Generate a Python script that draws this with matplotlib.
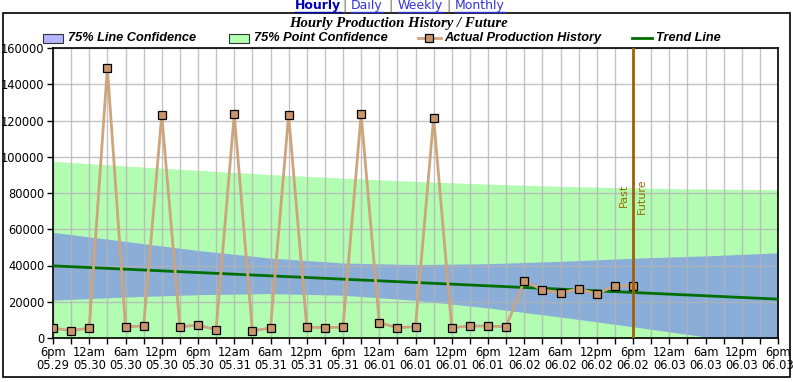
import matplotlib
matplotlib.use('Agg')
import matplotlib.pyplot as plt
import matplotlib.dates as mdates
import matplotlib.ticker as mticker
import numpy as np
import pandas as pd
from matplotlib.patches import Rectangle
from matplotlib.lines import Line2D

# ---------------- data ----------------
start = pd.Timestamp('2011-05-29 18:00')
production = [5500, 4000, 5500, 149000, 6200, 6600, 123000, 6200, 7100, 4600,
              123500, 4000, 5500, 123000, 6000, 5700, 6000, 123500, 8400, 5700,
              6200, 121500, 5700, 6600, 6600, 6200, 31500, 26600, 24900, 27100,
              24400, 28800, 28800]
prod_times = pd.date_range(start, periods=len(production), freq='3h')

band_times = pd.date_range(start, periods=11, freq='12h')
line_conf_upper = [58300, 53300, 48300, 44100, 41400, 40500, 41000, 42300, 44000, 45300, 47000]
line_conf_lower = [20900, 22600, 23900, 24500, 23600, 20800, 16600, 11600, 6200, 600, -5100]
point_conf_upper = [97500, 94900, 92500, 90200, 88200, 86400, 84900, 83700, 82800, 82200, 81800]
point_conf_lower = [-17900, -18970, -20240, -21600, -23280, -25140, -27320, -29780, -32560, -35620, -38900]

trend_times = [start, start + pd.Timedelta(hours=120)]
trend_values = [39800, 21450]

now_time = prod_times[-1]
x_end = start + pd.Timedelta(hours=120)

legend_labels = ['75% Line Confidence', '75% Point Confidence', 'Actual Production History', 'Trend Line']
nav_links = ['Hourly', 'Daily', 'Weekly', 'Monthly']
title = 'Hourly Production History / Future'

# ---------------- styles ----------------
C_GREEN = '#b3fdb3'
C_BLUE = '#8aaed8'
C_LINE = '#cda47c'
C_MARK = '#c8966a'
C_TREND = '#006e00'
C_NOW = '#a0600a'

W, H = 793, 382
fig = plt.figure(figsize=(W / 100, H / 100), dpi=100)
fig.patch.set_facecolor('white')

def fx(px):
    return px / W

def fy(py):
    return 1 - py / H

ax = fig.add_axes([fx(53), fy(338), fx(778) - fx(53), fy(48) - fy(338)])

ax.fill_between(band_times, point_conf_lower, point_conf_upper, color=C_GREEN, lw=0, zorder=1)
ax.fill_between(band_times, line_conf_lower, line_conf_upper, color=C_BLUE, lw=0, zorder=1.1)
ax.plot(trend_times, trend_values, color=C_TREND, lw=2, zorder=3)
ax.plot(prod_times, production, color=C_LINE, lw=2, zorder=4)
ax.plot(prod_times, production, ls='none', marker='s', ms=5.5, mfc=C_MARK,
        mec='black', mew=0.9, zorder=5)
ax.axvline(now_time, color=C_NOW, lw=2, zorder=6)

ax.text(now_time - pd.Timedelta(minutes=40), 78500, 'Past', rotation=90, ha='right', va='center',
        fontsize=8, color='#9c6a00', zorder=7)
ax.text(now_time + pd.Timedelta(minutes=40), 78500, 'Future', rotation=90, ha='left', va='center',
        fontsize=8, color='#9c6a00', zorder=7)

ax.set_xlim(start, x_end)
ax.set_ylim(0, 160000)
ax.yaxis.set_major_locator(mticker.MultipleLocator(20000))
ax.yaxis.set_major_formatter(mticker.FuncFormatter(lambda v, p: f'{int(v)}'))

ax.xaxis.set_major_locator(mdates.HourLocator(byhour=[0, 6, 12, 18]))
ax.xaxis.set_minor_locator(mdates.HourLocator(byhour=[3, 9, 15, 21]))
hour_names = {0: '12am', 6: '6am', 12: '12pm', 18: '6pm'}

def xfmt(v, p):
    d = mdates.num2date(v)
    return f"{hour_names.get(d.hour, '')}\n{d:%m.%d}"

ax.xaxis.set_major_formatter(mticker.FuncFormatter(xfmt))

ax.grid(True, which='both', axis='x', color='#b4b4b4', lw=1, alpha=0.8, zorder=2)
ax.grid(True, which='major', axis='y', color='#b4b4b4', lw=1, alpha=0.8, zorder=2)
ax.set_axisbelow('line')
ax.tick_params(axis='both', which='both', direction='out', length=4, width=1, color='black',
               labelsize=8.3, pad=2)
for lab in ax.get_xticklabels():
    lab.set_linespacing(1.0)
for s in ax.spines.values():
    s.set_color('black')
    s.set_linewidth(1.2)

# outer border
fig.patches.append(Rectangle((fx(3), fy(377)), fx(790) - fx(3), fy(13) - fy(377),
                             transform=fig.transFigure, fill=False, ec='black', lw=1.2))

# title
fig.text(fx(398), fy(23), title, ha='center', va='center', fontsize=10.6,
         family='Liberation Serif', weight='bold', style='italic')

# legend (manual)
leg_y = fy(38)
lfont = dict(fontsize=9.2, family='Liberation Sans', weight='bold', style='italic', va='center', ha='left')
sw_h = 9 / H
fig.patches.append(Rectangle((fx(43), leg_y - sw_h / 2), fx(20), sw_h, transform=fig.transFigure,
                             fc='#b4b4ff', ec='#333333', lw=0.8))
fig.text(fx(68), leg_y, legend_labels[0], **lfont)
fig.patches.append(Rectangle((fx(229), leg_y - sw_h / 2), fx(20), sw_h, transform=fig.transFigure,
                             fc='#b4ffb4', ec='#333333', lw=0.8))
fig.text(fx(254), leg_y, legend_labels[1], **lfont)
fig.lines.append(Line2D([fx(418), fx(441)], [leg_y, leg_y], transform=fig.transFigure,
                        color=C_LINE, lw=2))
fig.lines.append(Line2D([fx(429.5)], [leg_y], transform=fig.transFigure, marker='s', ms=5.5,
                        mfc=C_MARK, mec='black', mew=0.9))
fig.text(fx(444), leg_y, legend_labels[2], **lfont)
fig.lines.append(Line2D([fx(632), fx(652)], [leg_y, leg_y], transform=fig.transFigure,
                        color=C_TREND, lw=2))
fig.text(fx(656), leg_y, legend_labels[3], **lfont)

# nav links
link_x = [295, 351, 398, 455]
sep_x = [345, 391, 449]
renderer = fig.canvas.get_renderer()
for i, (name, x0) in enumerate(zip(nav_links, link_x)):
    t = fig.text(fx(x0), fy(6), name, ha='left', va='center', fontsize=9,
                 family='DejaVu Sans', weight='bold' if i == 0 else 'normal',
                 color='#0000bb' if i == 0 else '#3333dd')
    bb = t.get_window_extent(renderer)
    fig.lines.append(Line2D([bb.x0 / W, bb.x1 / W], [fy(12), fy(12)], transform=fig.transFigure,
                            color=t.get_color(), lw=1))
for x0 in sep_x:
    fig.text(fx(x0), fy(6), '|', ha='center', va='center', fontsize=9, color='#666666')

fig.savefig('out.png', dpi=100)
